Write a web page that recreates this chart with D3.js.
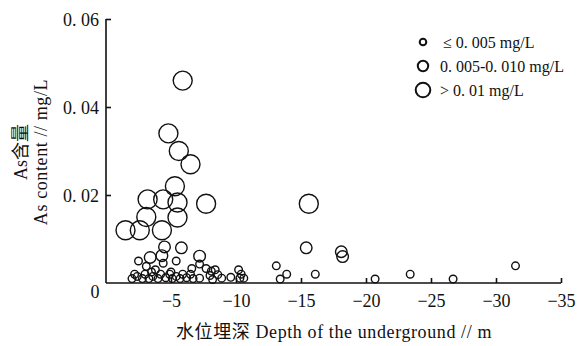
<!DOCTYPE html>
<html>
<head>
<meta charset="utf-8">
<script src="https://cdn.jsdelivr.net/npm/d3@7"></script>
<style>
  body { margin: 0; background: #fff; }
  text { font-family: "Liberation Serif", "Noto Sans CJK SC", serif; fill: #111; }
</style>
</head>
<body>
<div id="chart"></div>
<script>
// depth of groundwater table (m), As content (mg/L)
const depthLarge = [-5.9, -4.8, -5.6, -6.5, -5.3, -3.2, -4.4, -5.5, -7.7, -3.1, -5.5, -1.5, -2.6, -4.3, -15.6];
const asLarge    = [0.046, 0.034, 0.030, 0.027, 0.022, 0.019, 0.019, 0.0183, 0.018, 0.015, 0.0149, 0.012, 0.012, 0.012, 0.018];

const depthMedium = [-4.5, -5.8, -3.4, -4.3, -7.2, -15.4, -18.1, -18.2];
const asMedium    = [0.0082, 0.008, 0.0058, 0.0062, 0.0061, 0.008, 0.0071, 0.006];

const depthSmall = [-5.4, -2.5, -3.1, -4.4, -3.8, -7.2, -6.6, -7.7, -8.1, -8.4, -8.0, -8.6, -8.9, -7.2, -8.2,
  -9.6, -10.2, -10.4, -10.3, -10.6,
  -2.0, -2.4, -2.8, -2.2, -3.0, -3.3, -3.6, -4.0, -4.2, -4.6, -4.9, -5.1, -5.4, -5.7, -5.9, -6.2, -6.5, -6.7,
  -3.5, -5.0,
  -13.1, -13.4, -13.9, -16.1, -20.7, -23.4, -26.7, -31.5];
const asSmall = [0.005, 0.005, 0.0038, 0.0045, 0.003, 0.0043, 0.0033, 0.0033, 0.0027, 0.003, 0.0017, 0.0019, 0.0011, 0.0011, 0.0008,
  0.0013, 0.003, 0.002, 0.0011, 0.0011,
  0.001, 0.0015, 0.001, 0.002, 0.002, 0.001, 0.0015, 0.001, 0.002, 0.0012, 0.002, 0.001, 0.0015, 0.001, 0.002, 0.0012, 0.002, 0.001,
  0.0025, 0.0025,
  0.0039, 0.0009, 0.002, 0.002, 0.0009, 0.002, 0.0009, 0.0039];

const xTicks = [-5, -10, -15, -20, -25, -30, -35];
const yTicks = [0.02, 0.04, 0.06];
const legendLabels = ["\u2264 0. 005 mg/L", "0. 005-0. 010 mg/L", "> 0. 01 mg/L"];

let width = 583, height = 346;
let margin = { top: 19, right: 22, bottom: 63, left: 106 };

let svg = d3.select("#chart").append("svg")
  .attr("width", width)
  .attr("height", height);

let x = d3.scaleLinear()
  .domain([0, -35])
  .range([margin.left, width - margin.right]);

let y = d3.scaleLinear()
  .domain([0, 0.06])
  .range([height - margin.bottom, margin.top]);

let fmt = d => d < 0 ? "\u2212" + Math.abs(d) : String(d);

let xAxis = d3.axisTop(x)
  .tickValues(xTicks)
  .tickSize(5)
  .tickFormat("");

let gx = svg.append("g")
  .attr("transform", `translate(0,${y(0)})`)
  .call(xAxis);
gx.select(".domain").attr("d", `M${x(0)},0H${x(-35)}`);

gx.selectAll(".tick")
  .append("text")
  .attr("y", 24)
  .attr("text-anchor", "middle")
  .attr("font-size", 18)
  .text(d => fmt(d));

let yAxis = d3.axisRight(y)
  .tickValues(yTicks)
  .tickSize(5)
  .tickFormat("");

let gy = svg.append("g")
  .attr("transform", `translate(${x(0)},0)`)
  .call(yAxis);
gy.select(".domain").attr("d", `M0,${y(0)}V${y(0.06)}`);

gy.selectAll(".tick")
  .append("text")
  .attr("x", -7)
  .attr("dy", "0.35em")
  .attr("text-anchor", "end")
  .attr("font-size", 18)
  .text(d => d3.format(".2f")(d).replace(".", ". "));

svg.selectAll(".domain, .tick line")
  .attr("stroke", "#111")
  .attr("stroke-width", 1.6);

svg.append("text")
  .attr("x", x(0) - 11)
  .attr("y", y(0) + 15)
  .attr("text-anchor", "middle")
  .attr("font-size", 18)
  .text("0");

// points, one size per class
let classes = [
  { dx: depthSmall, dy: asSmall, r: 3.8 },
  { dx: depthMedium, dy: asMedium, r: 5.8 },
  { dx: depthLarge, dy: asLarge, r: 9.5 }
];

classes.forEach(c => {
  svg.append("g")
    .selectAll("circle")
    .data(c.dx.map((d, i) => [d, c.dy[i]]))
    .enter()
    .append("circle")
    .attr("cx", d => x(d[0]))
    .attr("cy", d => y(d[1]))
    .attr("r", c.r)
    .attr("fill", "none")
    .attr("stroke", "#111")
    .attr("stroke-width", 1.4);
});

let legend = svg.append("g")
  .attr("transform", "translate(423,42)");

let legendR = [3.3, 5.2, 7.3];
legendLabels.forEach((label, i) => {
  legend.append("circle")
    .attr("cx", 0)
    .attr("cy", i * 24)
    .attr("r", legendR[i])
    .attr("fill", "none")
    .attr("stroke", "#111")
    .attr("stroke-width", 2);
  legend.append("text")
    .attr("x", i === 0 ? 20 : 17)
    .attr("y", i * 24)
    .attr("dy", "0.35em")
    .attr("font-size", 16)
    .text(label);
});

svg.append("text")
  .attr("x", 334)
  .attr("y", 338)
  .attr("text-anchor", "middle")
  .attr("font-size", 18)
  .attr("letter-spacing", 0.6)
  .text("水位埋深 Depth of the underground // m");

svg.append("text")
  .attr("transform", "translate(27,152) rotate(-90)")
  .attr("text-anchor", "middle")
  .attr("font-size", 18)
  .text("As含量");

svg.append("text")
  .attr("transform", "translate(47,152) rotate(-90)")
  .attr("text-anchor", "middle")
  .attr("font-size", 18)
  .attr("letter-spacing", 0.6)
  .text("As content // mg/L");
</script>
</body>
</html>
